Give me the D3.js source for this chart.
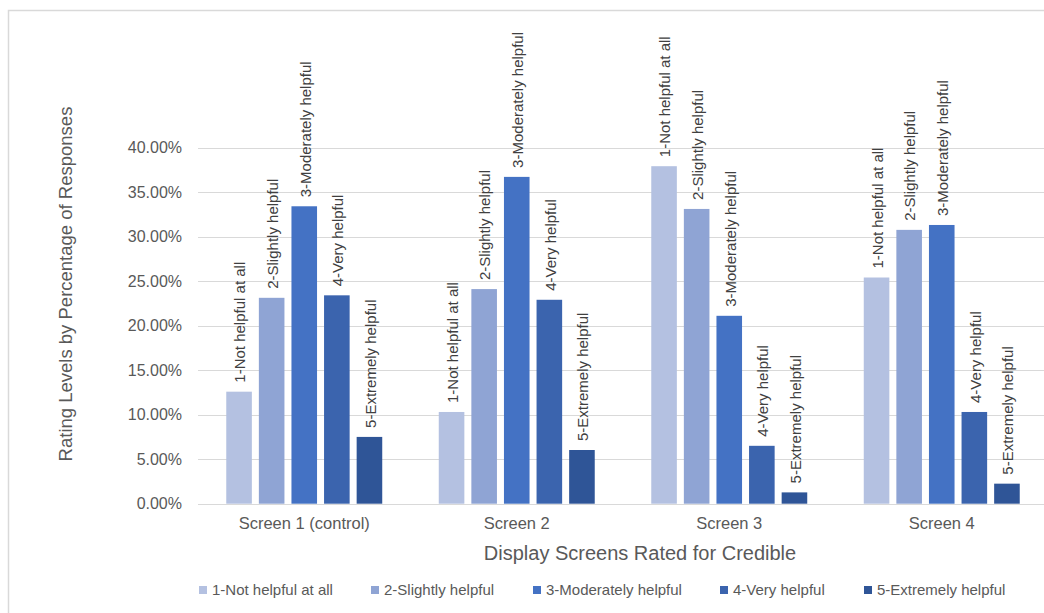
<!DOCTYPE html>
<html>
<head>
<meta charset="utf-8">
<script src="https://cdn.jsdelivr.net/npm/d3@7"></script>
<style>
  html, body { margin: 0; padding: 0; background: #fff; }
  svg { display: block; font-family: "Liberation Sans", Arial, sans-serif; }
</style>
</head>
<body>
<svg id="chart" width="1044" height="613"></svg>
<script>
// Screens being rated and the five rating levels
const screens = ["Screen 1 (control)", "Screen 2", "Screen 3", "Screen 4"];
const levels = ["1-Not helpful at all", "2-Slightly helpful", "3-Moderately helpful", "4-Very helpful", "5-Extremely helpful"];

// Share of responses per level, one array per screen (fractions)
const screen1 = [0.1258, 0.2312, 0.3340, 0.2340, 0.0750];
const screen2 = [0.1030, 0.2410, 0.3670, 0.2290, 0.0603];
const screen3 = [0.3790, 0.3310, 0.2110, 0.0650, 0.0127];
const screen4 = [0.2540, 0.3075, 0.3130, 0.1030, 0.0225];
const values = [screen1, screen2, screen3, screen4];

const yTicks = [0, 0.05, 0.10, 0.15, 0.20, 0.25, 0.30, 0.35, 0.40];
const colors = ["#b4c1e1", "#8fa4d4", "#4472c4", "#3b64ae", "#2f5597"];

const svg = d3.select("#chart");
const textColor = "#595959";
const labelColor = "#404040";

// outer frame of the chart area
svg.append("rect")
  .attr("x", 8.5).attr("y", 10.5)
  .attr("width", 1100).attr("height", 700)
  .attr("fill", "none").attr("stroke", "#d9d9d9").attr("stroke-width", 1.5);

const plotLeft = 198, plotRight = 1048;
const y = d3.scaleLinear().domain([0, 0.40]).range([503.7, 147.5]);

const x0 = d3.scaleBand().domain(screens).range([plotLeft, plotRight])
  .paddingInner(0.266).paddingOuter(0.133);
const x1 = d3.scaleBand().domain(levels).range([0, x0.bandwidth()])
  .paddingInner(0.215);

// horizontal gridlines
svg.append("g").selectAll("line").data(yTicks).join("line")
  .attr("x1", plotLeft).attr("x2", 1044)
  .attr("y1", d => Math.round(y(d)) + 0.5).attr("y2", d => Math.round(y(d)) + 0.5)
  .attr("stroke", "#d9d9d9").attr("stroke-width", 1.2);

// y axis tick labels
const yAxis = d3.axisLeft(y).tickValues(yTicks).tickFormat(d3.format(".2%"))
  .tickSize(0).tickPadding(16);
const gy = svg.append("g").attr("transform", `translate(${plotLeft},0)`).call(yAxis);
gy.select(".domain").remove();
gy.selectAll("text").attr("fill", textColor).style("font-size", "16px")
  .style("font-family", "'Liberation Sans', Arial, sans-serif");

// x axis category labels
const xAxis = d3.axisBottom(x0).tickSize(0).tickPadding(14);
const gx = svg.append("g").attr("transform", `translate(0,${y(0)})`).call(xAxis);
gx.select(".domain").remove();
gx.selectAll("text").attr("fill", textColor).style("font-size", "16.5px")
  .style("font-family", "'Liberation Sans', Arial, sans-serif");

// grouped bars with rotated level labels
const groups = svg.append("g").selectAll("g").data(screens).join("g")
  .attr("transform", d => `translate(${x0(d)},0)`);

groups.selectAll("rect")
  .data((s, i) => levels.map((l, j) => ({ level: l, value: values[i][j], j })))
  .join("rect")
  .attr("x", d => x1(d.level))
  .attr("width", x1.bandwidth())
  .attr("y", d => y(d.value))
  .attr("height", d => y(0) - y(d.value))
  .attr("fill", d => colors[d.j]);

groups.selectAll("text")
  .data((s, i) => levels.map((l, j) => ({ level: l, value: values[i][j], j })))
  .join("text")
  .attr("transform", d => `translate(${x1(d.level) + x1.bandwidth() / 2 + 1},${y(d.value) - 9}) rotate(-90)`)
  .attr("dy", "0.35em")
  .attr("text-anchor", "start")
  .attr("fill", labelColor)
  .style("font-size", "15px")
  .text(d => d.level);

// baseline
svg.append("line")
  .attr("x1", plotLeft).attr("x2", 1044)
  .attr("y1", Math.round(y(0)) + 0.5).attr("y2", Math.round(y(0)) + 0.5)
  .attr("stroke", "#d9d9d9").attr("stroke-width", 1.2);

// axis titles
svg.append("text")
  .attr("x", 640).attr("y", 560)
  .attr("text-anchor", "middle").attr("fill", textColor)
  .style("font-size", "20px")
  .text("Display Screens Rated for Credible");

svg.append("text")
  .attr("transform", "translate(72,284) rotate(-90)")
  .attr("text-anchor", "middle").attr("fill", textColor)
  .style("font-size", "18.5px")
  .text("Rating Levels by Percentage of Responses");

// legend
const legendX = [199, 371, 533, 720, 864];
const legend = svg.append("g").selectAll("g").data(levels).join("g")
  .attr("transform", (d, i) => `translate(${legendX[i]},590)`);
legend.append("rect")
  .attr("x", 0).attr("y", -4).attr("width", 8).attr("height", 8)
  .attr("fill", (d, i) => colors[i]);
legend.append("text")
  .attr("x", 13).attr("dy", "0.35em")
  .attr("fill", textColor).style("font-size", "15px")
  .text(d => d);
</script>
</body>
</html>
